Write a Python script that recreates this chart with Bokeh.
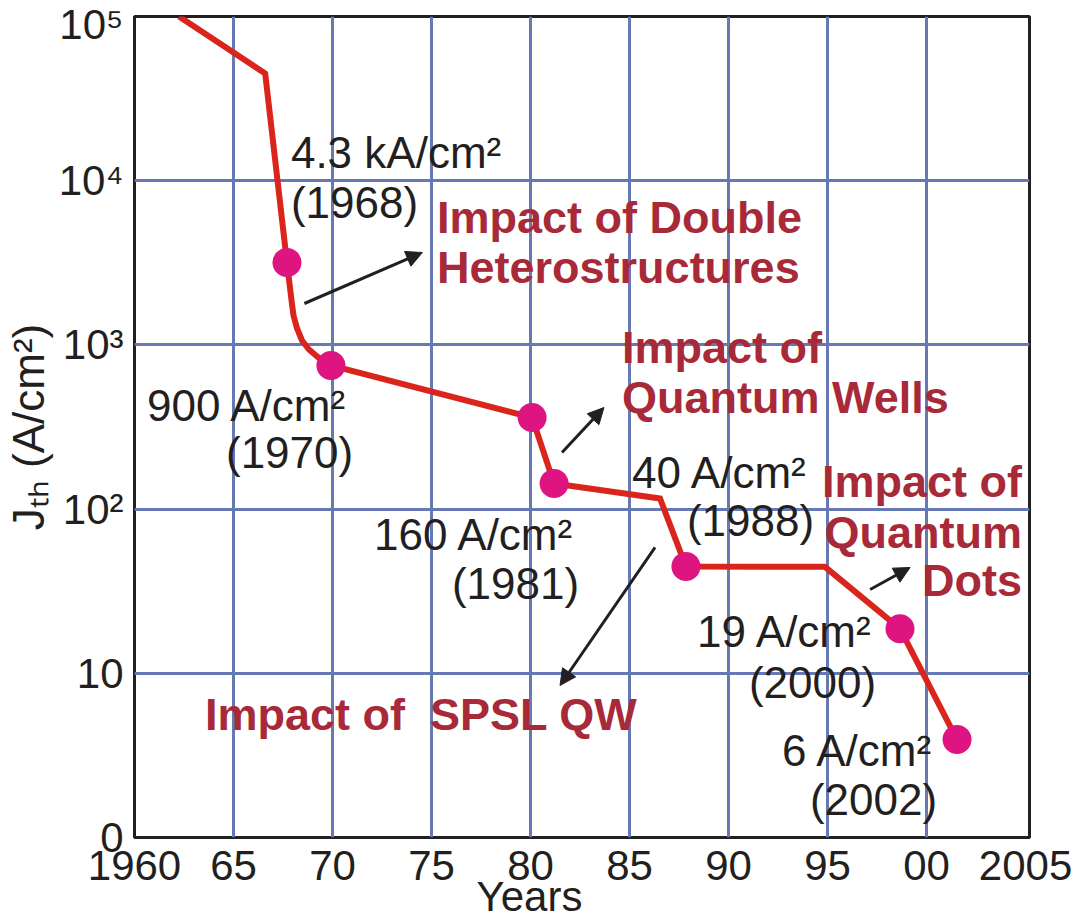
from bokeh.plotting import figure
from bokeh.models import Range1d, FixedTicker, Arrow, NormalHead
from bokeh.core.properties import value
from bokeh.embed import file_html
from bokeh.resources import INLINE

# ---- data ----
years_line = [1962.25, 1966.6, 1967.7, 1967.93, 1968.03, 1968.21, 1968.46, 1968.81,
              1969.22, 1969.62, 1969.92, 1980.08, 1981.19, 1986.54, 1987.85, 1994.87,
              1998.66, 2001.54]
jth_line = [100000, 45000, 3175, 1864, 1511, 1259, 1064, 938,
            850, 781, 749, 361, 143, 116, 44.7, 44.5,
            18.7, 3.95]

years_pts = [1967.7, 1969.92, 1980.08, 1981.19, 1987.85, 1998.66, 2001.54]
jth_pts = [3175, 749, 361, 143, 44.7, 18.7, 3.95]

x_ticks = [1960, 1965, 1970, 1975, 1980, 1985, 1990, 1995, 2000, 2005]
x_tick_labels = ["1960", "65", "70", "75", "80", "85", "90", "95", "00", "2005"]
x_grid = [1965, 1970, 1975, 1980, 1985, 1990, 1995, 2000]
y_ticks = [1, 10, 100, 1000, 10000, 100000]
y_tick_labels = ["0", "10", "10²", "10³", "10⁴", "10⁵"]
y_grid = [10, 100, 1000, 10000]

# value annotations (text, left x in years, baseline y in A/cm2)
value_text = ["4.3 kA/cm²", "(1968)", "900 A/cm²", "(1970)", "160 A/cm²", "(1981)",
              "40 A/cm²", "(1988)", "19 A/cm²", "(2000)", "6 A/cm²", "(2002)"]
value_x = [1967.90, 1967.90, 1960.63, 1964.62, 1972.10, 1976.03,
           1985.13, 1987.90, 1988.41, 1991.03, 1992.70, 1994.11]
value_y = [14750, 7315, 424.6, 222.7, 70.5, 34.99,
           168.2, 85.8, 17.85, 8.85, 3.41, 1.692]

# "impact" annotations, left aligned
impact_text = ["Impact of Double", "Heterostructures", "Impact of", "Quantum Wells",
               "Impact of\u00a0 SPSL QW"]
impact_x = [1975.28, 1975.28, 1984.62, 1984.62, 1963.56]
impact_y = [5929, 2941, 970.9, 481.6, 5.574]

# "impact" annotation, right aligned
qd_text = ["Impact of", "Quantum", "Dots"]
qd_x = [2004.82, 2004.82, 2004.82]
qd_y = [146.3, 72.5, 37.0]

# arrows: (x_start, y_start) -> (x_end, y_end)
arrow_x0 = [1968.58, 1981.59, 1986.29, 1997.15]
arrow_y0 = [1787, 221, 58.4, 32.4]
arrow_x1 = [1974.54, 1983.71, 1981.49, 1999.17]
arrow_y1 = [3653, 415.6, 8.43, 44.1]

BLACK = "#231F20"
GRID = "#6679B5"
RED = "#DA251D"
MAGENTA = "#DE1481"
CRIMSON = "#A82938"
FONT = "Liberation Sans"

p = figure(width=1076, height=923, y_axis_type="log",
           x_range=Range1d(1960, 2005.2), y_range=Range1d(1, 100000),
           output_backend="svg", toolbar_location=None,
           min_border_left=133, min_border_right=47,
           min_border_top=16, min_border_bottom=86)

p.background_fill_color = "white"
p.border_fill_color = "white"
p.outline_line_color = BLACK
p.outline_line_width = 3

for ax in (p.xaxis[0], p.yaxis[0]):
    ax.axis_line_color = None
    ax.major_tick_line_color = None
    ax.minor_tick_line_color = None
    ax.major_label_text_font = FONT
    ax.major_label_text_font_size = "42px"
    ax.major_label_text_color = BLACK
    ax.axis_label_text_font = FONT
    ax.axis_label_text_font_style = "normal"
    ax.axis_label_text_color = BLACK

p.xaxis[0].ticker = FixedTicker(ticks=x_ticks)
p.xaxis[0].major_label_overrides = {t: s for t, s in zip(x_ticks, x_tick_labels)}
p.xaxis[0].major_label_standoff = 7
p.xaxis[0].axis_label = "Years" + "\u00a0" * 9
p.xaxis[0].axis_label_text_font_size = "42px"
p.xaxis[0].axis_label_standoff = -10

p.yaxis[0].ticker = FixedTicker(ticks=y_ticks)
p.yaxis[0].major_label_overrides = {t: s for t, s in zip(y_ticks, y_tick_labels)}
p.yaxis[0].major_label_standoff = 5
p.yaxis[0].axis_label = "J\u209c\u2095 (A/cm²)"
p.yaxis[0].axis_label_text_font_size = "44px"
p.yaxis[0].axis_label_standoff = 3

p.xgrid[0].ticker = FixedTicker(ticks=x_grid)
p.ygrid[0].ticker = FixedTicker(ticks=y_grid)
for g in (p.xgrid[0], p.ygrid[0]):
    g.grid_line_color = GRID
    g.grid_line_width = 3
    g.grid_line_alpha = 1.0

# data
p.line(years_line, jth_line, line_color=RED, line_width=6, line_join="miter")
p.scatter(years_pts, jth_pts, size=29, fill_color=MAGENTA, line_color=None)

# annotations
p.text(x=value_x, y=value_y, text=value_text, text_font=value(FONT),
       text_font_size="44px", text_color=BLACK,
       text_align="left", text_baseline="alphabetic")
p.text(x=impact_x, y=impact_y, text=impact_text, text_font=value(FONT),
       text_font_size="45px", text_font_style="bold", text_color=CRIMSON,
       text_align="left", text_baseline="alphabetic")
p.text(x=qd_x, y=qd_y, text=qd_text, text_font=value(FONT),
       text_font_size="45px", text_font_style="bold", text_color=CRIMSON,
       text_align="right", text_baseline="alphabetic")

for x0, y0, x1, y1 in zip(arrow_x0, arrow_y0, arrow_x1, arrow_y1):
    p.add_layout(Arrow(end=NormalHead(size=16, fill_color=BLACK, line_color=BLACK, line_width=1),
                       x_start=x0, y_start=y0, x_end=x1, y_end=y1,
                       line_color=BLACK, line_width=3))

open("out.html", "w").write(file_html(p, INLINE))
